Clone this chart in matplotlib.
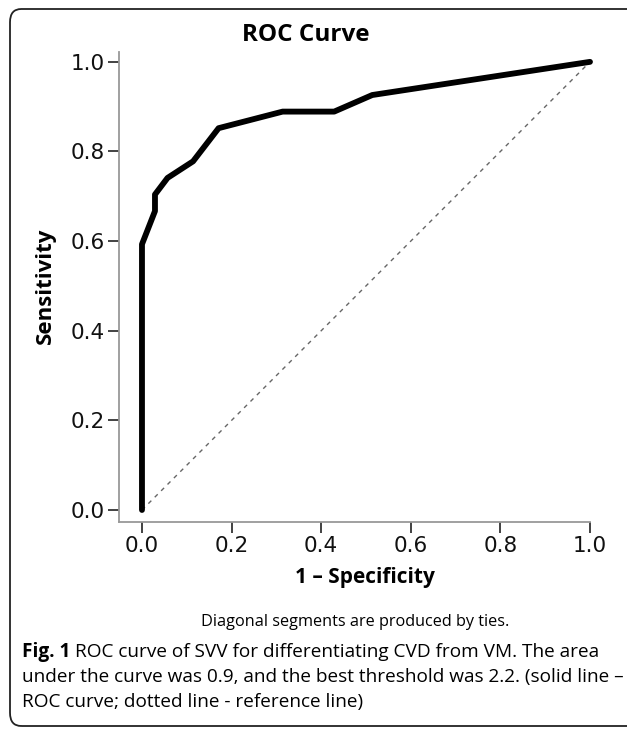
import numpy as np
import matplotlib
matplotlib.use("Agg")
import matplotlib.pyplot as plt
from matplotlib.patches import FancyBboxPatch

# ROC points
fpr = [0.0, 0.0, 0.029, 0.029, 0.057, 0.114, 0.171, 0.314, 0.429, 0.514, 1.0]
tpr = [0.0, 0.593, 0.667, 0.704, 0.741, 0.778, 0.852, 0.889, 0.889, 0.926, 1.0]
ref_line = [0.0, 1.0]
ticks = [0.0, 0.2, 0.4, 0.6, 0.8, 1.0]
tick_labels = ["0.0", "0.2", "0.4", "0.6", "0.8", "1.0"]

W, H = 627, 734
fig = plt.figure(figsize=(W / 100, H / 100), dpi=100)

# rounded frame round the whole figure (right edge runs off the page)
frame = FancyBboxPatch((10 / W, 8 / H), 700 / W, 717 / H,
                       boxstyle="round,pad=0,rounding_size=0.018",
                       transform=fig.transFigure, fill=False,
                       edgecolor="#222222", linewidth=1.3)
fig.patches.append(frame)

ax = fig.add_axes([119 / W, 1 - 522 / H, 471 / W, 470 / H])
ax.plot(ref_line, ref_line, color="#666666", linestyle=(0, (3, 3.5)), linewidth=1.0)
ax.plot(fpr, tpr, color="black", linewidth=4.2, solid_capstyle="round",
        solid_joinstyle="round", clip_on=False)

ax.set_xlim(-0.0513, 1.0)
ax.set_ylim(-0.0268, 1.022)
ax.set_xticks(ticks)
ax.set_xticklabels(tick_labels)
ax.set_yticks(ticks)
ax.set_yticklabels(tick_labels)
for s in ["top", "right"]:
    ax.spines[s].set_visible(False)
for s in ["left", "bottom"]:
    ax.spines[s].set_color("#999999")
    ax.spines[s].set_linewidth(1.3)
ax.tick_params(length=8, width=1.3, color="#333333", labelsize=15.5,
               labelcolor="#111111", pad=2)
for lab in ax.get_xticklabels() + ax.get_yticklabels():
    lab.set_family("DejaVu Sans")

fig.text(306 / W, 1 - 35 / H, "ROC Curve", ha="center", va="center",
         family="Open Sans", weight="bold", fontsize=17.5)
fig.text(45 / W, 1 - 286 / H, "Sensitivity", ha="center", va="center",
         rotation=90, family="Open Sans", weight="bold", fontsize=16)
fig.text(365 / W, 1 - 578 / H, "1 \u2013 Specificity", ha="center", va="center",
         family="Open Sans", weight="bold", fontsize=15)
fig.text(355 / W, 1 - 622 / H, "Diagonal segments are produced by ties.",
         ha="center", va="center", family="Open Sans", fontsize=11.7)

# caption
cap_font = dict(family="Open Sans", fontsize=13.7, va="center", ha="left")
t = fig.text(22 / W, 1 - 652 / H, "Fig. 1", weight="bold", **cap_font)
fig.canvas.draw()
bb = t.get_window_extent()
fig.text(bb.x1 / W + 5 / W, 1 - 652 / H,
         "ROC curve of SVV for differentiating CVD from VM. The area", **cap_font)
fig.text(22 / W, 1 - 677 / H,
         "under the curve was 0.9, and the best threshold was 2.2. (solid line \u2013",
         **cap_font)
fig.text(22 / W, 1 - 702 / H, "ROC curve; dotted line - reference line)", **cap_font)

fig.savefig("out.png", dpi=100)
